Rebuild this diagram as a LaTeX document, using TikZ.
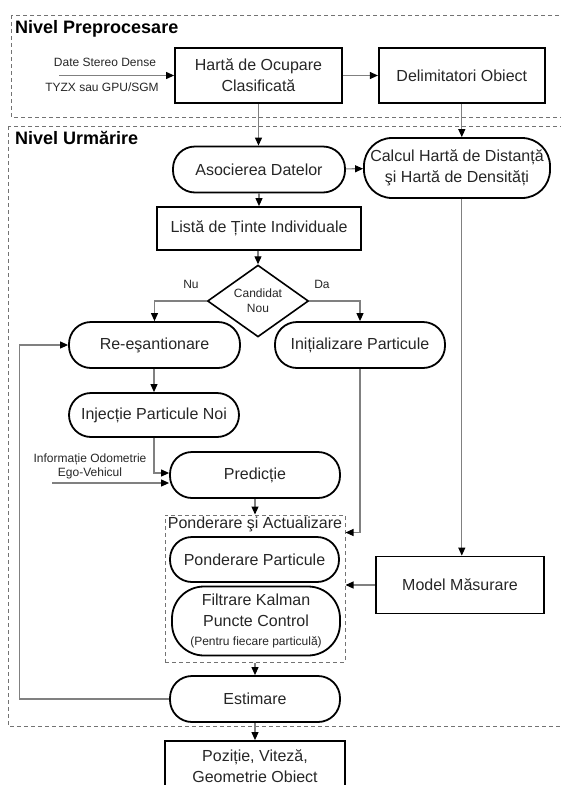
\documentclass[tikz,border=0pt]{standalone}
\usepackage{fontspec}
\setmainfont{Liberation Sans}
\usetikzlibrary{arrows.meta,positioning,calc,shapes.geometric}
\tikzset{
  box/.style  ={draw, line width=1.8pt, align=center, inner sep=0pt, text=black!85, font=\fontsize{16}{21}\selectfont},
  stad/.style ={box, rounded corners=22pt},
  dec/.style  ={diamond, draw, line width=1.6pt, align=center, inner sep=0pt, text=black!85, font=\fontsize{12}{15}\selectfont},
  lbl/.style  ={align=center, inner sep=0pt, text=black!85, font=\fontsize{12}{14}\selectfont},
  ttl/.style  ={inner sep=0pt, font=\fontsize{18}{20}\selectfont\bfseries},
  level/.style={draw=black!55, line width=1pt, dash pattern=on 4pt off 3pt},
  arr/.style  ={draw=black!50, line width=1.1pt, -{Triangle[length=8pt, width=7pt, color=black]}},
  line/.style ={draw=black!50, line width=1.1pt},
}
\begin{document}
\begin{tikzpicture}[x=1pt, y=-1pt]
  \useasboundingbox (0,0) rectangle (561,785);
  \clip (0,0) rectangle (561,785);
  % the two levels
  \draw[level] (11,15) rectangle (575,117);
  \draw[level] (8,126) rectangle (575,726);
  \node[ttl, anchor=west] (tpre) at (15,29) {Nivel Preprocesare};
  \node[ttl, anchor=west] (turm) at (15,138) {Nivel Urmărire};
  % preprocessing
  \node[box, minimum width=167pt, minimum height=55pt] (hoc) at (258.5,75.5) {Hartă de Ocupare\\Clasificată};
  \node[box, minimum width=166pt, minimum height=55pt, right=35pt of hoc] (delim) {Delimitatori Obiect};
  \coordinate (din) at (59,75.5);
  \node[lbl] (ldate) at (105,62) {Date Stereo Dense};
  \node[lbl] (ltyzx) at (102,87) {TYZX sau GPU/SGM};
  \draw[arr] (din) -- (hoc.west);
  \draw[arr] (hoc) -- (delim);
  % tracking
  \node[stad, minimum width=172pt, minimum height=46pt] (asoc) at (259,169.5) {Asocierea Datelor};
  \node[stad, rounded corners=28pt, minimum width=186pt, minimum height=60pt] (calc) at (457,168) {Calcul Hartă de Distanță\\şi Hartă de Densități};
  \node[box, minimum width=204pt, minimum height=43pt] (lista) at (259,228.5) {Listă de Ținte Individuale};
  \node[dec, minimum width=101pt, minimum height=56pt] (cand) at (258,301) {Candidat\\Nou};
  \node[lbl] (lnu) at (191,284) {Nu};
  \node[lbl] (lda) at (322,284) {Da};
  \node[stad, minimum width=171pt, minimum height=46pt] (resamp) at (154.5,345) {Re-eşantionare};
  \node[stad, minimum width=170pt, minimum height=46pt] (init) at (360,345) {Inițializare Particule};
  \node[stad, minimum width=170pt, minimum height=44pt] (inject) at (154,415) {Injecție Particule Noi};
  \node[stad, minimum width=170pt, minimum height=46pt] (pred) at (255,475) {Predicție};
  \coordinate (odo) at (52,483);
  \node[lbl] (lodo) at (90,466) {Informație Odometrie\\Ego-Vehicul};
  % weighting and update
  \node[level, minimum width=180pt, minimum height=147pt] (grp) at (255,588.5) {};
  \node[lbl, font=\fontsize{16}{18}\selectfont] (lgrp) at (255,524) {Ponderare şi Actualizare};
  \node[stad, minimum width=169pt, minimum height=45pt] (pond) at (254.5,559.5) {Ponderare Particule};
  \node[stad, rounded corners=32pt, minimum width=168pt, minimum height=69pt] (kal) at (256,621)
    {Filtrare Kalman\\Puncte Control\\[-2pt]{\fontsize{12}{14}\selectfont(Pentru fiecare particulă)}};
  \node[box, minimum width=168pt, minimum height=57pt] (model) at (460,585) {Model Măsurare};
  \node[stad, minimum width=170pt, minimum height=46pt] (estim) at (255,699) {Estimare};
  \node[box, minimum width=180pt, minimum height=50pt] (poz) at (255,766) {Poziție, Viteză,\\Geometrie Obiect};
  % connectors
  \draw[arr] (hoc.south) -- (hoc.south |- asoc.north);
  \draw[arr] (delim.south) -- (delim.south |- calc.north);
  \draw[arr] (asoc) -- (calc);
  \draw[arr] (asoc.south) -- (asoc.south |- lista.north);
  \draw[arr] (lista.south -| cand.north) -- (cand.north);
  \draw[arr] (cand.west) -| (resamp.north);
  \draw[arr] (cand.east) -| (init.north);
  \draw[arr] (resamp.south -| inject.north) -- (inject.north);
  \draw[arr] (inject.south) |- ([yshift=2pt]pred.west);
  \draw[arr] (odo) -- (odo -| pred.west);
  \draw[arr] (pred.south) -- (grp.north);
  \draw[arr] (init.south) |- ([yshift=-18pt]grp.north east);
  \draw[arr] (delim.south |- calc.south) -- (delim.south |- model.north);
  \draw[arr] (model.west) -- (model.west -| grp.east);
  \draw[arr] (grp.south) -- (estim.north);
  \draw[arr] (estim.west) -- ++(-150,0) |- (resamp.west);
  \draw[arr] (estim.south) -- (poz.north);
\end{tikzpicture}
\end{document}
